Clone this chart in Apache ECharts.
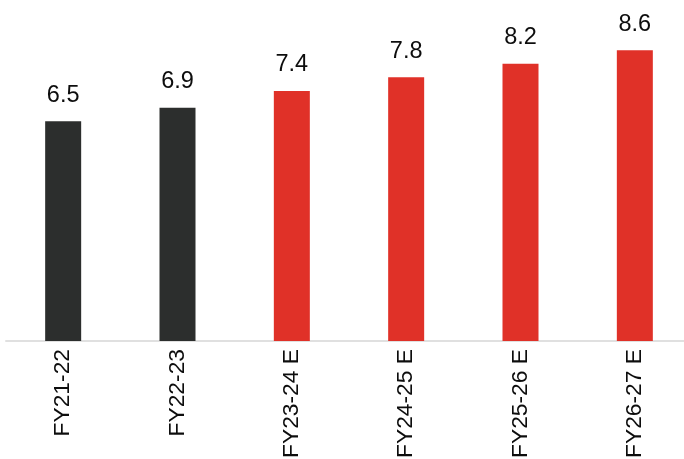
<!DOCTYPE html>
<html>
<head>
<meta charset="utf-8">
<script src="https://cdn.jsdelivr.net/npm/echarts@6/dist/echarts.min.js"></script>
<style>
  html, body { margin: 0; padding: 0; background: #ffffff; }
  #chart { width: 684px; height: 459px; }
</style>
</head>
<body>
<div id="chart"></div>
<script>
// Fiscal years (actuals followed by estimates)
const categories = ['FY21-22', 'FY22-23', 'FY23-24 E', 'FY24-25 E', 'FY25-26 E', 'FY26-27 E'];
const values = [6.5, 6.9, 7.4, 7.8, 8.2, 8.6];
const isEstimate = [false, false, true, true, true, true];

const ACTUAL_COLOR = '#2c2e2d';
const ESTIMATE_COLOR = '#e03128';
const FONT = '"Liberation Sans", Arial, Helvetica, sans-serif';

const chart = echarts.init(document.getElementById('chart'), null, { renderer: 'canvas' });

chart.setOption({
  animation: false,
  backgroundColor: '#ffffff',
  grid: {
    left: 6, width: 686, top: 3, height: 338,
    containLabel: false,
    outerBoundsMode: 'none'
  },
  xAxis: {
    type: 'category',
    data: categories,
    axisLine: { show: true, lineStyle: { color: '#e0e0e0', width: 2 } },
    axisTick: { show: false },
    axisLabel: {
      rotate: 90,
      margin: 8,
      color: '#0d0d0d',
      fontFamily: FONT,
      fontSize: 22.8
    },
    z: 0
  },
  yAxis: {
    type: 'value',
    min: 0,
    max: 10,
    show: false,
    splitLine: { show: false }
  },
  series: [{
    type: 'bar',
    barWidth: 36,
    data: values.map((v, i) => ({
      value: v,
      itemStyle: { color: isEstimate[i] ? ESTIMATE_COLOR : ACTUAL_COLOR }
    })),
    label: {
      show: true,
      position: 'top',
      distance: 14,
      color: '#0d0d0d',
      fontFamily: FONT,
      fontSize: 23.5,
      formatter: p => p.value.toFixed(1)
    },
    z: 2
  }]
});
</script>
</body>
</html>
